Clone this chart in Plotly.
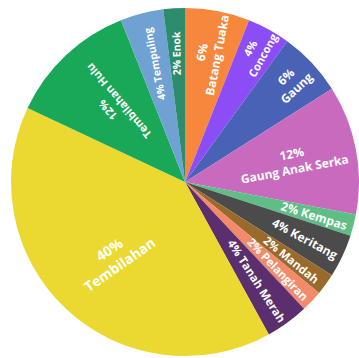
import math
import plotly.graph_objects as go

labels = ["Batang Tuaka", "Concong", "Gaung", "Gaung Anak Serka", "Kempas",
          "Keritang", "Mandah", "Pelangiran", "Tanah Merah", "Tembilahan",
          "Tembilahan Hulu", "Tempuling", "Enok"]
values = [3, 2, 3, 6, 1, 2, 1, 1, 2, 20, 6, 2, 1]
colors = ["#F7873D", "#8C4DF6", "#4A62B6", "#C86BBE", "#5EBE86",
          "#4B4B4B", "#9A6A2C", "#F38B6B", "#5B2F6E", "#EBD932",
          "#19A857", "#6FA2D3", "#2D8C6C"]
two_line = {"Batang Tuaka", "Concong", "Gaung", "Gaung Anak Serka",
            "Tembilahan", "Tembilahan Hulu"}
# labels drawn as rotated annotations: (angle or None for radial, radius fraction, font size)
custom = {
    "Tembilahan": (-35, 0.59, 14),
    "Tembilahan Hulu": (None, 0.6, 11),
    "Kempas": (None, 0.765, 12),
    "Keritang": (None, 0.76, 12),
    "Mandah": (None, 0.755, 11.5),
    "Pelangiran": (None, 0.735, 11.5),
    "Tanah Merah": (None, 0.70, 11.5),
    "Tempuling": (None, 0.70, 10.5),
    "Enok": (None, 0.74, 10.5),
}

W, H = 359, 358
dom_x = [11 / W, 1.0]
dom_y = [0.0, 352 / H]
R_px = min((dom_x[1] - dom_x[0]) * W, (dom_y[1] - dom_y[0]) * H) / 2
cx = (dom_x[0] + dom_x[1]) / 2
cy = (dom_y[0] + dom_y[1]) / 2

total = sum(values)
texts, annotations = [], []
cum = 0
font = dict(family="Open Sans", color="white", weight="bold")
for lab, v in zip(labels, values):
    pct = f"{round(100 * v / total)}%"
    t = f"{pct}<br>{lab}" if lab in two_line else f"{pct} {lab}"
    mid = (cum + v / 2) / total * 360
    cum += v
    if lab in custom:
        ang, rf, fs = custom[lab]
        if ang is None:
            ang = mid - 90 + 3
            if ang > 180:
                ang -= 360
        a = math.radians(mid)
        annotations.append(dict(
            x=cx + rf * R_px * math.sin(a) / W,
            y=cy + rf * R_px * math.cos(a) / H,
            xref="paper", yref="paper", text=t, showarrow=False,
            textangle=ang, xanchor="center", yanchor="middle",
            font=dict(font, size=fs),
        ))
        texts.append("")
    else:
        texts.append(t)

fig = go.Figure(go.Pie(
    labels=labels,
    values=values,
    text=texts,
    textinfo="text",
    textposition="inside",
    insidetextorientation="radial",
    sort=False,
    direction="clockwise",
    rotation=0,
    marker=dict(colors=colors, line=dict(width=0)),
    textfont=dict(font, size=12),
    hoverinfo="label+percent",
    domain=dict(x=dom_x, y=dom_y),
))

fig.update_layout(
    width=W, height=H,
    margin=dict(l=0, r=0, t=0, b=0),
    showlegend=False,
    paper_bgcolor="white",
    plot_bgcolor="white",
    annotations=annotations,
)

fig.write_html("out.html")
